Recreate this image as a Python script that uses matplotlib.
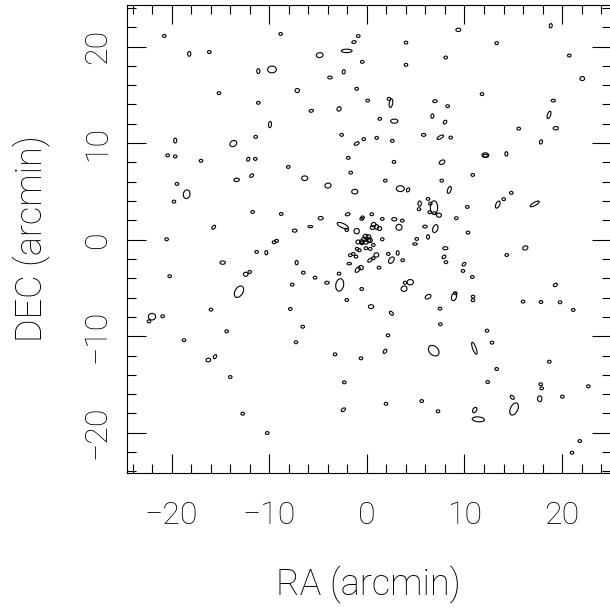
import matplotlib
matplotlib.use("Agg")
import matplotlib.pyplot as plt
from matplotlib.patches import Ellipse
from matplotlib.ticker import MultipleLocator

# Compact sources (unresolved): RA / DEC offsets in arcmin
ra_pt = [-20.75, -8.83, -16.14, -15.15, -11.12, -11.39, -20.4, -19.63, -11.43, -0.88,
         4.01, -0.47, 8.08, 4.01, -1.04, 0.09, 2.27, 8.28, 1.32, -2.58,
         -0.32, 1.01, 2.61, 8.59, -1.90, 13.30, 20.74, 11.80, 15.56, 10.85,
         14.80, 14.02, 10.29, 9.16, 10.36, 14.33, 9.85, 10.80, 9.06, 10.88,
         10.88, 16.0, 17.84, 19.79, 21.15, 12.31, 12.82, 18.69, 13.30, 12.38,
         17.81, 17.91, 22.69, 20.03, 21.81, 21.02, -16.99, -8.05, -19.45, -19.76,
         -11.70, -8.77, -20.51, -9.51, -9.24, -11.29, -20.20, -12.0, -15.97, -22.32,
         -20.92, -14.36, -18.73, -13.99, -12.72, -10.20, -6.57, 7.53, -7.26, 2.17,
         -3.26, -0.60, -2.31, 1.96, 5.62, 7.29, 2.78, -1.65, 1.89, 7.67,
         5.34, 6.27, 6.50, 6.44, 6.91, 0.50, 1.58, 3.63, -0.53, -0.43,
         -2.06, 1.58, 0.66, -0.09, -1.01, -0.77, 0.35, -0.50, 5.11, 8.11,
         -1.70, -1.39, -1.11, 2.20, 3.67, 0.66, 1.24, -6.51, -5.31, -2.85,
         -7.64, -0.53, -2.06, -7.84, 3.91, 7.49]
dec_pt = [21.1, 21.3, 19.42, 15.17, 14.17, 10.64, 8.73, 8.62, 8.36, 21.08,
          20.41, 18.41, 18.86, 18.10, 15.62, 14.40, 14.58, 13.82, 12.51, 10.85,
          10.40, 10.54, 10.23, 10.57, 8.47, 20.35, 19.07, 15.07, 11.50, 6.70,
          4.84, 4.19, 3.39, 2.22, 0.73, -1.59, -3.24, -3.87, -5.55, -5.9,
          -6.28, -6.42, -6.46, -6.49, -7.28, -9.43, -10.67, -12.64, -13.40, -14.75,
          -14.98, -15.40, -15.19, -16.27, -20.86, -22.07, 8.16, 7.53, 5.77, 3.94,
          2.87, 2.66, 0.04, -0.27, -0.13, -1.27, -3.79, -3.35, -7.25, -8.46,
          -7.94, -9.49, -10.42, -14.23, -18.03, -20.03, -9.02, -8.77, -10.63, -9.91,
          -11.88, -12.29, -14.78, -17.0, -16.72, -17.78, 8.05, 6.94, 6.11, 6.11,
          3.15, 4.22, 3.73, 2.84, 2.74, 2.63, 2.15, 1.97, 2.15, 2.30,
          1.0, 0.04, -0.55, -0.89, -0.96, -1.10, -0.96, -0.37, 0.07, -2.34,
          -1.62, -1.48, -1.76, -1.48, -2.13, -1.93, -2.90, -3.42, -3.94, -3.52,
          -4.66, -5.11, -6.25, -7.18, -4.46, -7.15]
pt_major, pt_minor = 0.36, 0.30

# Resolved sources: centre, major / minor axis (arcmin), orientation (deg)
ra_ext = [-18.19, -11.12, -9.72, -9.92, -19.63, -13.68, -12.15, -1.32, -4.83, -2.06,
          -2.37, -3.78, -7.13, 2.47, 6.98, -5.69, -2.85, 2.81, 6.71, 8.01,
          -1.04, 5.82, 7.53, 9.37, 18.84, 22.07, 19.10, 18.66, 19.35, 17.84,
          12.14, 12.14, 14.29, 8.45, 13.41, 17.20, 16.23, 9.95, 19.31, 8.93,
          11.01, 14.90, 17.71, 15.08, 11.05, 11.42, -18.46, -13.34, -11.80, -15.69,
          -10.30, -14.77, -12.41, -13.10, -22.01, -16.24, -15.56, 2.51, 1.86, 6.85,
          -2.41, 7.70, -6.37, -3.98, 3.43, 4.22, -1.24, 5.41, 6.88, 7.39,
          -4.73, -1.96, 2.81, -2.47, -5.79, -7.39, -1.04, 0.70, 0.58, 0.99,
          1.30, 3.29, 5.96, 7.01, -0.14, 0.17, -0.29, 0.17, -0.09, 0.32,
          -0.88, -0.53, 6.27, 4.93, 8.04, 7.90, 0.97, 3.16, 2.51, 0.32,
          -1.80, -7.19, -4.08, -0.94, -0.60, -2.78, 4.45, 3.81, 6.27, 0.43]
dec_ext = [19.24, 17.45, 17.62, 11.92, 10.26, 9.95, 8.33, 20.46, 19.11, 19.55,
           17.38, 16.79, 15.44, 14.13, 14.34, 13.34, 13.54, 12.27, 12.79, 12.17,
           9.95, 10.85, 10.61, 21.73, 22.15, 16.68, 14.40, 12.92, 11.54, 10.12,
           8.75, 8.70, 8.88, 5.15, 3.63, 3.70, -0.86, -2.55, -4.69, -5.91,
           -11.25, -16.33, -16.48, -17.54, -17.65, -18.61, 4.70, 6.19, 6.63, 1.28,
           -1.35, -2.38, -3.59, -5.39, -7.98, -12.47, -12.12, -7.63, -11.56, -11.50,
           -17.62, 8.02, 6.36, 5.60, 5.28, 5.15, 4.97, 3.73, 3.32, 2.53,
           2.22, 2.63, 2.11, 1.45, 1.35, 0.93, 0.88, 1.55, 1.25, 1.32,
           1.15, 1.28, 1.35, 1.14, 0.33, 0.28, 0.02, -0.03, -0.24, -0.08,
           -0.24, -0.21, 0.28, -0.45, -0.89, -1.79, -1.59, -1.38, -2.13, -2.13,
           -2.49, -2.38, -4.46, -3.11, -2.90, -4.69, -4.41, -5.08, -5.91, -6.94]
maj_ext = [0.5, 0.5, 0.9, 0.65, 0.5, 0.75, 0.42, 0.45, 0.7, 1.1,
           0.45, 0.45, 0.45, 0.9, 0.45, 0.45, 0.48, 0.75, 0.45, 0.45,
           0.55, 0.45, 0.75, 0.5, 0.45, 0.48, 0.42, 0.8, 0.52, 0.45,
           0.7, 0.55, 0.45, 0.75, 0.8, 1.05, 0.55, 0.45, 0.45, 0.85,
           1.3, 0.5, 0.6, 1.35, 0.6, 1.25, 0.9, 0.55, 0.45, 0.5,
           0.45, 0.55, 0.48, 1.3, 0.75, 0.48, 0.45, 0.5, 0.5, 1.25,
           0.5, 0.62, 0.62, 0.62, 0.82, 0.45, 0.62, 0.55, 1.4, 0.5,
           0.52, 0.5, 0.52, 1.25, 0.48, 0.48, 0.55, 0.48, 0.45, 0.48,
           0.45, 0.62, 0.45, 0.85, 0.48, 0.48, 0.48, 0.48, 0.48, 0.48,
           0.48, 0.45, 0.45, 0.45, 0.52, 0.45, 0.5, 0.45, 0.75, 0.55,
           0.45, 0.45, 0.45, 0.65, 0.48, 1.3, 0.65, 0.62, 0.65, 0.55]
min_ext = [0.32, 0.32, 0.7, 0.3, 0.32, 0.58, 0.3, 0.28, 0.5, 0.35,
           0.3, 0.3, 0.42, 0.35, 0.3, 0.28, 0.4, 0.42, 0.3, 0.3,
           0.3, 0.3, 0.3, 0.35, 0.3, 0.42, 0.28, 0.32, 0.35, 0.3,
           0.48, 0.28, 0.3, 0.35, 0.38, 0.32, 0.42, 0.3, 0.3, 0.5,
           0.35, 0.3, 0.45, 0.75, 0.38, 0.5, 0.68, 0.35, 0.3, 0.3,
           0.3, 0.35, 0.42, 0.8, 0.68, 0.38, 0.3, 0.3, 0.3, 0.9,
           0.3, 0.4, 0.48, 0.52, 0.6, 0.3, 0.48, 0.35, 0.75, 0.42,
           0.35, 0.3, 0.35, 0.45, 0.22, 0.32, 0.55, 0.45, 0.4, 0.42,
           0.4, 0.62, 0.3, 0.5, 0.45, 0.45, 0.45, 0.45, 0.45, 0.45,
           0.4, 0.4, 0.3, 0.25, 0.32, 0.3, 0.45, 0.3, 0.48, 0.3,
           0.25, 0.3, 0.3, 0.38, 0.45, 0.8, 0.55, 0.55, 0.4, 0.4]
pa_ext = [90, 90, 0, 85, 90, 35, 70, 15, 10, 0,
          80, 0, 0, 80, 10, 15, 60, 0, 80, 50,
          30, 0, 30, 0, 80, 0, 0, 70, 0, 70,
          0, 0, 90, 70, 65, 30, 20, 45, 35, 75,
          110, 135, 90, 65, 60, -5, 80, 5, 40, 50,
          90, 0, 0, 60, 0, 10, 60, 135, 55, 135,
          40, 30, 0, 10, 0, 60, 0, 90, 90, 0,
          0, 20, 0, -25, 0, 0, 0, 0, 0, 90,
          0, 0, 0, 70, 0, 0, 0, 0, 0, 0,
          0, 0, 90, 0, 0, 40, 0, 90, 55, 40,
          0, 90, 0, 50, 0, 80, 0, 20, 30, 0]

xticks = [-20, -10, 0, 10, 20]
yticks = [-20, -10, 0, 10, 20]

W, H = 610, 608
fig = plt.figure(figsize=(W / 100, H / 100), dpi=100)
ax = fig.add_axes([127 / W, (H - 473.3) / H, (610.5 - 127) / W, (473.3 - 5) / H])
ax.set_xlim(-24.57, 24.96)
ax.set_ylim(-24.2, 24.3)

lw = 0.8
for x, y in zip(ra_pt, dec_pt):
    ax.add_patch(Ellipse((x, y), pt_major, pt_minor, angle=0,
                         fill=False, edgecolor="black", linewidth=lw))
for x, y, a, b, t in zip(ra_ext, dec_ext, maj_ext, min_ext, pa_ext):
    ax.add_patch(Ellipse((x, y), a, b, angle=t,
                         fill=False, edgecolor="black", linewidth=lw))

for s in ax.spines.values():
    s.set_linewidth(0.8)
ax.set_xticks(xticks)
ax.set_yticks(yticks)
ax.xaxis.set_minor_locator(MultipleLocator(2))
ax.yaxis.set_minor_locator(MultipleLocator(2))
ax.tick_params(which="both", direction="in", top=True, right=True, width=0.8)
ax.tick_params(which="major", length=13.5)
ax.tick_params(which="minor", length=6.5)

tick_font = dict(family="Roboto", weight="light", size=23)
ax.set_xticklabels([f"\u2212{abs(v)}" if v < 0 else str(v) for v in xticks], **tick_font)
ax.set_yticklabels([f"\u2212{abs(v)}" if v < 0 else str(v) for v in yticks],
                   rotation=90, va="center", **tick_font)
ax.tick_params(axis="x", pad=20)
ax.tick_params(axis="y", pad=11)

label_font = dict(family="Roboto", weight="light", size=26)
fig.text((127 + 610.5) / 2 / W, 1 - 584 / H, "RA (arcmin)", ha="center", va="center",
         **label_font)
fig.text(31 / W, 1 - 239 / H, "DEC (arcmin)", ha="center", va="center", rotation=90,
         **label_font)

fig.savefig("out.png", dpi=100)
